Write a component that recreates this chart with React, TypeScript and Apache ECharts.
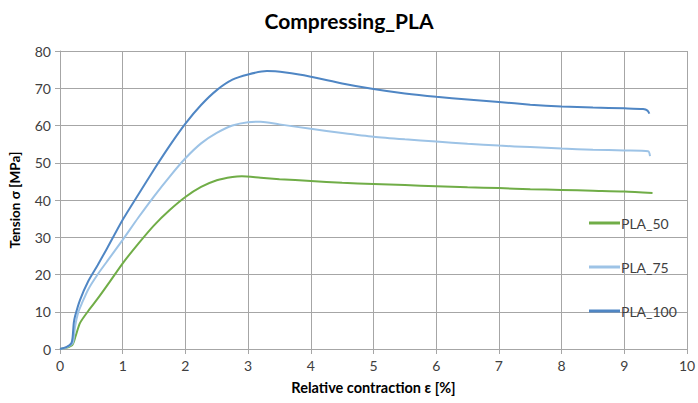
import React, { useEffect, useRef } from "react";
import * as echarts from "echarts";

const titleText = "Compressing_PLA";
const xAxisName = "Relative contraction ε [%]";
const yAxisName = "Tension σ [MPa]";
const seriesNames = ["PLA_50", "PLA_75", "PLA_100"];
const seriesColors = ["#70AD47", "#9DC3E6", "#4F86C4"];

const pla50: number[][] = [
  [0, 0], [0.1, 0.3], [0.2, 1.2], [0.25, 3.5], [0.32, 7], [0.45, 10.2], [0.6, 13.5], [0.75, 17],
  [1, 23], [1.25, 28.3], [1.5, 33.2], [1.75, 37.3], [2, 40.8], [2.25, 43.5], [2.5, 45.3],
  [2.75, 46.2], [2.9, 46.4], [3.2, 46], [3.5, 45.6], [4, 45.1], [4.5, 44.6], [5, 44.3],
  [5.5, 44], [6, 43.7], [6.5, 43.4], [7, 43.2], [7.5, 42.9], [8, 42.7], [8.5, 42.5],
  [9, 42.3], [9.45, 41.9],
];

const pla75: number[][] = [
  [0, 0], [0.1, 0.4], [0.2, 1.5], [0.22, 3], [0.24, 6], [0.29, 9.8], [0.35, 12.3], [0.45, 16],
  [0.6, 20], [0.75, 23.5], [1, 29.3], [1.25, 35.3], [1.5, 41], [1.75, 46.3], [2, 51.2],
  [2.25, 55.2], [2.5, 58], [2.75, 60], [3, 60.9], [3.2, 61], [3.5, 60.3], [4, 59.1],
  [4.5, 58], [5, 57], [5.5, 56.3], [6, 55.7], [6.5, 55.1], [7, 54.6], [7.5, 54.2],
  [8, 53.8], [8.5, 53.5], [9, 53.3], [9.38, 53.1], [9.41, 51.8],
];

const pla100: number[][] = [
  [0, 0], [0.1, 0.5], [0.18, 1.5], [0.2, 3], [0.22, 7], [0.24, 8.8], [0.32, 13.2], [0.45, 18.2],
  [0.6, 22.5], [0.75, 27], [1, 34.7], [1.25, 41.5], [1.5, 48.2], [1.75, 54.6], [2, 60.5],
  [2.25, 65.5], [2.5, 69.5], [2.75, 72.3], [3, 73.7], [3.3, 74.6], [3.6, 74.2], [4, 73.1],
  [4.5, 71.3], [5, 69.8], [5.5, 68.6], [6, 67.7], [6.5, 67], [7, 66.3], [7.5, 65.6],
  [8, 65.1], [8.5, 64.8], [9, 64.6], [9.3, 64.4], [9.37, 64], [9.4, 63.2],
];

const seriesData = [pla50, pla75, pla100];

export default function App() {
  const ref = useRef<HTMLDivElement>(null);
  useEffect(() => {
    if (!ref.current) return;
    const chart = echarts.init(ref.current, null, { renderer: "svg" });
    const font = "Lato, 'Liberation Sans', Arial, sans-serif";
    chart.setOption({
      animation: false,
      backgroundColor: "#ffffff",
      title: {
        text: titleText,
        left: "center",
        top: 5,
        textStyle: { fontFamily: font, fontSize: 21, fontWeight: "bold", color: "#000000" },
      },
      grid: { left: 60, right: 11, top: 51, bottom: 54, containLabel: false, outerBoundsMode: "none" },
      legend: {
        orient: "vertical",
        left: 584,
        top: 211,
        itemGap: 30,
        itemWidth: 31,
        itemHeight: 3,
        icon: "rect",
        data: seriesNames,
        textStyle: { fontFamily: font, fontSize: 14, color: "#404040", padding: [0, 0, 0, -4] },
      },
      xAxis: {
        type: "value",
        min: 0,
        max: 10,
        interval: 1,
        name: xAxisName,
        nameLocation: "middle",
        nameGap: 31,
        nameTextStyle: { fontFamily: font, fontSize: 14.5, fontWeight: "bold", color: "#000000" },
        axisLine: { show: true, lineStyle: { color: "#A6A6A6", width: 1 } },
        axisTick: { show: true, length: 5, lineStyle: { color: "#A6A6A6" } },
        axisLabel: { fontFamily: font, fontSize: 14, color: "#404040", margin: 9 },
        splitLine: { show: true, lineStyle: { color: "#A6A6A6", width: 1 } },
      },
      yAxis: {
        type: "value",
        min: 0,
        max: 80,
        interval: 10,
        name: yAxisName,
        nameLocation: "middle",
        nameGap: 38,
        nameRotate: 90,
        nameTextStyle: { fontFamily: font, fontSize: 13.5, fontWeight: "bold", color: "#000000" },
        axisLine: { show: true, lineStyle: { color: "#A6A6A6", width: 1 } },
        axisTick: { show: true, length: 5, lineStyle: { color: "#A6A6A6" } },
        axisLabel: { fontFamily: font, fontSize: 14, color: "#404040", margin: 9 },
        splitLine: { show: true, lineStyle: { color: "#A6A6A6", width: 1 } },
      },
      series: seriesNames.map((name, i) => ({
        name,
        type: "line",
        data: seriesData[i],
        showSymbol: false,
        symbol: "none",
        smooth: 0.25,
        lineStyle: { color: seriesColors[i], width: 2 },
        itemStyle: { color: seriesColors[i] },
      })),
    });
    return () => chart.dispose();
  }, []);
  return (
    <div
      ref={ref}
      style={{ position: "fixed", left: 0, top: 0, width: 698, height: 403 }}
    />
  );
}
